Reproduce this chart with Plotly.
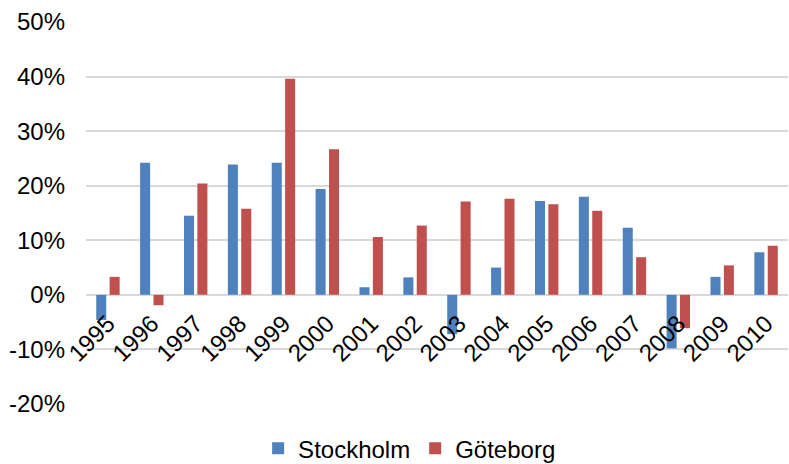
import plotly.graph_objects as go

years = [str(y) for y in range(1995, 2011)]
stockholm = [-0.046, 0.242, 0.145, 0.239, 0.242, 0.194, 0.014, 0.032,
             -0.072, 0.050, 0.172, 0.180, 0.123, -0.098, 0.033, 0.078]
goteborg = [0.033, -0.019, 0.204, 0.158, 0.396, 0.267, 0.106, 0.127,
            0.171, 0.176, 0.166, 0.154, 0.069, -0.061, 0.054, 0.090]

y_ticks = [-0.2, -0.1, 0.0, 0.1, 0.2, 0.3, 0.4, 0.5]
y_tick_labels = ["-20%", "-10%", "0%", "10%", "20%", "30%", "40%", "50%"]
y_range = [-0.2, 0.5]

FONT = "Liberation Sans, Arial, sans-serif"
FS = 24

fig = go.Figure()
fig.add_trace(go.Bar(x=years, y=stockholm, name="Stockholm",
                     marker=dict(color="#4F81BD", line=dict(width=0))))
fig.add_trace(go.Bar(x=years, y=goteborg, name="Göteborg",
                     marker=dict(color="#C0504D", line=dict(width=0))))

# the category axis sits on the zero line
zero_pos = (0 - y_range[0]) / (y_range[1] - y_range[0])

fig.update_layout(
    width=789, height=464,
    margin=dict(l=86, r=1, t=22, b=60, autoexpand=False),
    paper_bgcolor="white", plot_bgcolor="white",
    barmode="group", bargap=0.39, bargroupgap=0.25,
    font=dict(family=FONT, size=FS, color="#000000"),
    showlegend=True,
    legend=dict(orientation="h", x=0.461, xanchor="center", y=-0.117,
                yanchor="middle", font=dict(size=FS, color="#000000"),
                bgcolor="rgba(0,0,0,0)", traceorder="normal"),
    xaxis=dict(type="category", anchor="free", position=zero_pos,
               showline=False, showgrid=False, zeroline=False,
               ticks="", tickangle=-45, ticklabelstandoff=9,
               tickfont=dict(size=FS, color="#000000")),
    yaxis=dict(range=y_range, tickmode="array", tickvals=y_ticks,
               ticktext=y_tick_labels,
               showgrid=True, gridcolor="#d9d9d9", gridwidth=1.5,
               zeroline=False, showline=False, ticks="",
               ticklabelstandoff=20,
               tickfont=dict(size=FS, color="#000000")),
)

fig.write_html("out.html")
